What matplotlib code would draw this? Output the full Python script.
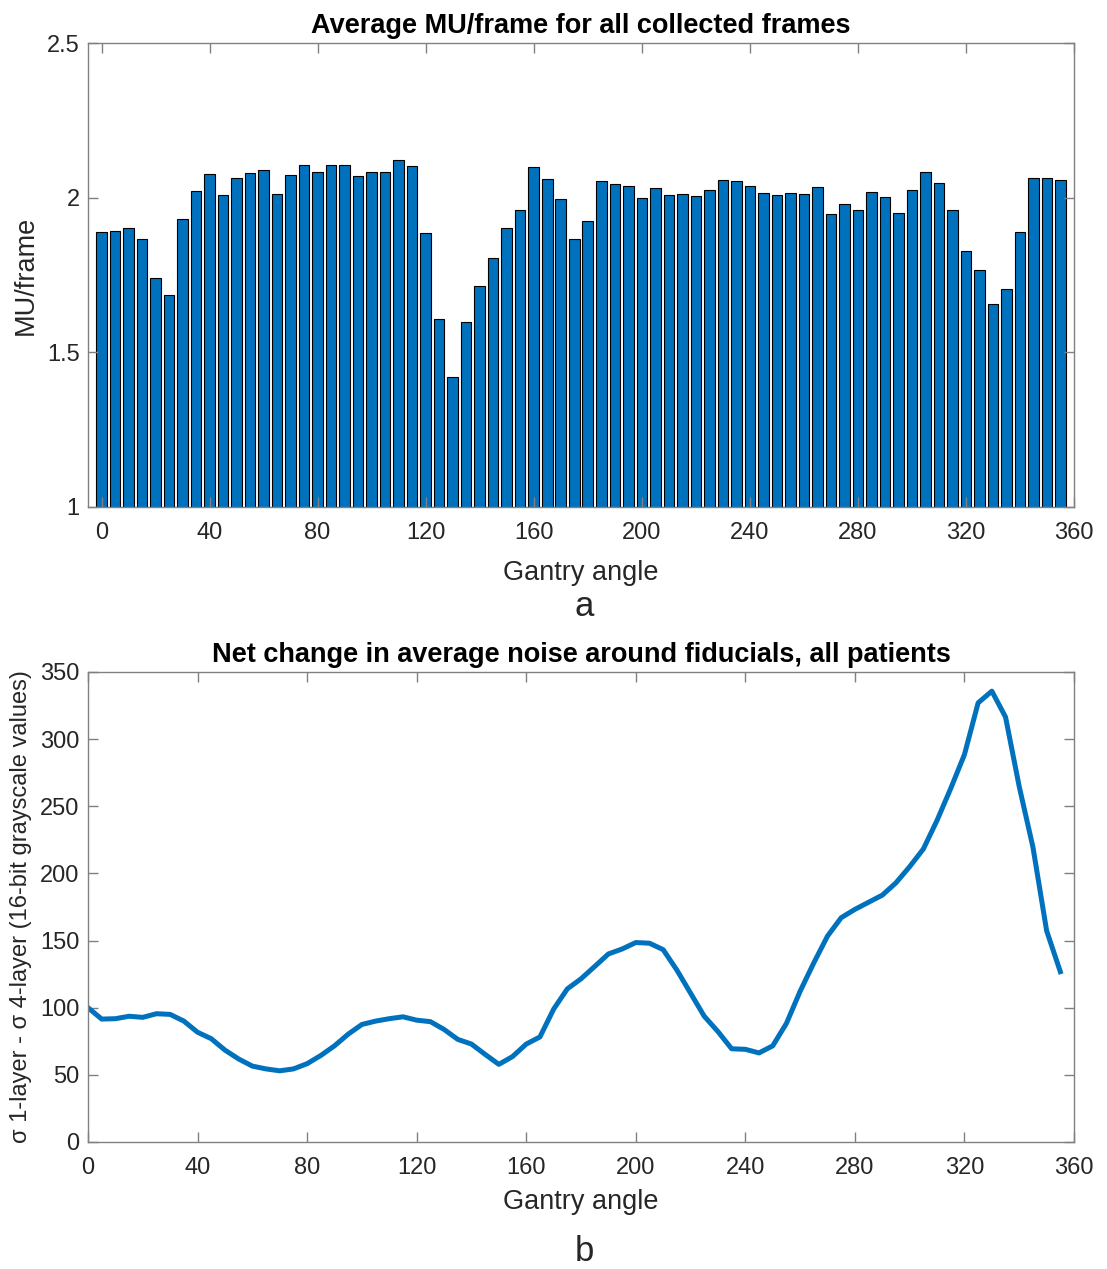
import numpy as np
import matplotlib
matplotlib.use("Agg")
import matplotlib.pyplot as plt

plt.rcParams['font.family'] = ['Liberation Sans', 'DejaVu Sans']

# Gantry angles sampled every 5 degrees
angles = np.arange(0, 360, 5)

# Average MU per frame at each gantry angle
mu_per_frame = [
    1.889, 1.892, 1.902, 1.865, 1.741, 1.684, 1.930, 2.023, 2.078, 2.010,
    2.065, 2.080, 2.091, 2.012, 2.074, 2.105, 2.082, 2.105, 2.105, 2.071,
    2.084, 2.084, 2.123, 2.102, 1.886, 1.607, 1.419, 1.598, 1.714, 1.804,
    1.903, 1.961, 2.099, 2.060, 1.995, 1.865, 1.924, 2.053, 2.043, 2.037,
    1.999, 2.032, 2.010, 2.013, 2.006, 2.026, 2.056, 2.054, 2.038, 2.016,
    2.009, 2.015, 2.013, 2.033, 1.948, 1.980, 1.961, 2.019, 2.002, 1.951,
    2.025, 2.084, 2.046, 1.961, 1.829, 1.766, 1.655, 1.704, 1.890, 2.065,
    2.065, 2.057,
]

# sigma(1-layer) - sigma(4-layer) noise difference
noise_diff = [
    100.0, 91.5, 91.8, 93.6, 92.8, 95.5, 95.0, 90.0, 81.7, 76.9,
    68.4, 61.8, 56.5, 54.4, 53.0, 54.4, 58.3, 64.4, 71.6, 80.3,
    87.5, 90.0, 91.8, 93.2, 90.7, 89.6, 83.8, 76.4, 72.9, 65.2,
    57.8, 63.6, 72.9, 78.2, 98.9, 114.0, 121.5, 130.7, 140.0, 143.7,
    148.5, 148.0, 143.2, 128.0, 110.8, 93.6, 82.2, 69.4, 69.0, 66.3,
    71.6, 88.3, 112.2, 133.4, 153.3, 167.0, 173.2, 178.5, 183.8, 193.0,
    205.0, 218.2, 239.5, 263.3, 288.5, 327.0, 335.7, 316.4, 264.6, 219.6,
    157.3, 126.8,
]

matlab_blue = '#0072BD'
axis_grey = '#808080'
text_col = '#262626'


def style_axes(ax):
    for sp in ax.spines.values():
        sp.set_color(axis_grey)
        sp.set_linewidth(1.0)
    ax.tick_params(direction='in', top=True, right=True, length=7,
                   width=1.0, color=axis_grey, labelsize=17,
                   labelcolor=text_col)
    ax.tick_params(axis='x', pad=11)
    ax.tick_params(axis='y', pad=6)


fig = plt.figure(figsize=(11.07, 12.69), dpi=100)

# (a) bar chart
ax1 = fig.add_axes([0.0795, 0.6005, 0.8907, 0.3656])
ax1.bar(angles, mu_per_frame, width=3.9, color=matlab_blue,
        edgecolor='black', linewidth=0.8)
ax1.set_xlim(-5, 360)
ax1.set_ylim(1, 2.5)
ax1.set_xticks(np.arange(0, 361, 40))
ax1.set_yticks([1, 1.5, 2, 2.5])
ax1.set_yticklabels(['1', '1.5', '2', '2.5'])
style_axes(ax1)
ax1.set_title('Average MU/frame for all collected frames', fontsize=19.5,
              fontweight='bold', color='black', pad=7)
ax1.set_xlabel('Gantry angle', fontsize=19.5, color=text_col, labelpad=11)
ax1.set_ylabel('MU/frame', fontsize=19.5, color=text_col, labelpad=6)
fig.text(0.528, 0.522, 'a', fontsize=25, ha='center', va='center',
         color=text_col)

# (b) line chart
ax2 = fig.add_axes([0.0795, 0.1001, 0.8907, 0.3704])
ax2.plot(angles, noise_diff, color=matlab_blue, linewidth=3.6,
         solid_joinstyle='round')
ax2.set_xlim(0, 360)
ax2.set_ylim(0, 350)
ax2.set_xticks(np.arange(0, 361, 40))
ax2.set_yticks(np.arange(0, 351, 50))
style_axes(ax2)
ax2.set_title('Net change in average noise around fiducials, all patients',
              fontsize=19.5, fontweight='bold', color='black', pad=7)
ax2.set_xlabel('Gantry angle', fontsize=19.5, color=text_col, labelpad=7)
ax2.set_ylabel('σ 1-layer - σ 4-layer (16-bit grayscale values)',
               fontsize=17, color=text_col, labelpad=6)
fig.text(0.528, 0.014, 'b', fontsize=25, ha='center', va='center',
         color=text_col)

fig.savefig('out.png', dpi=100)
